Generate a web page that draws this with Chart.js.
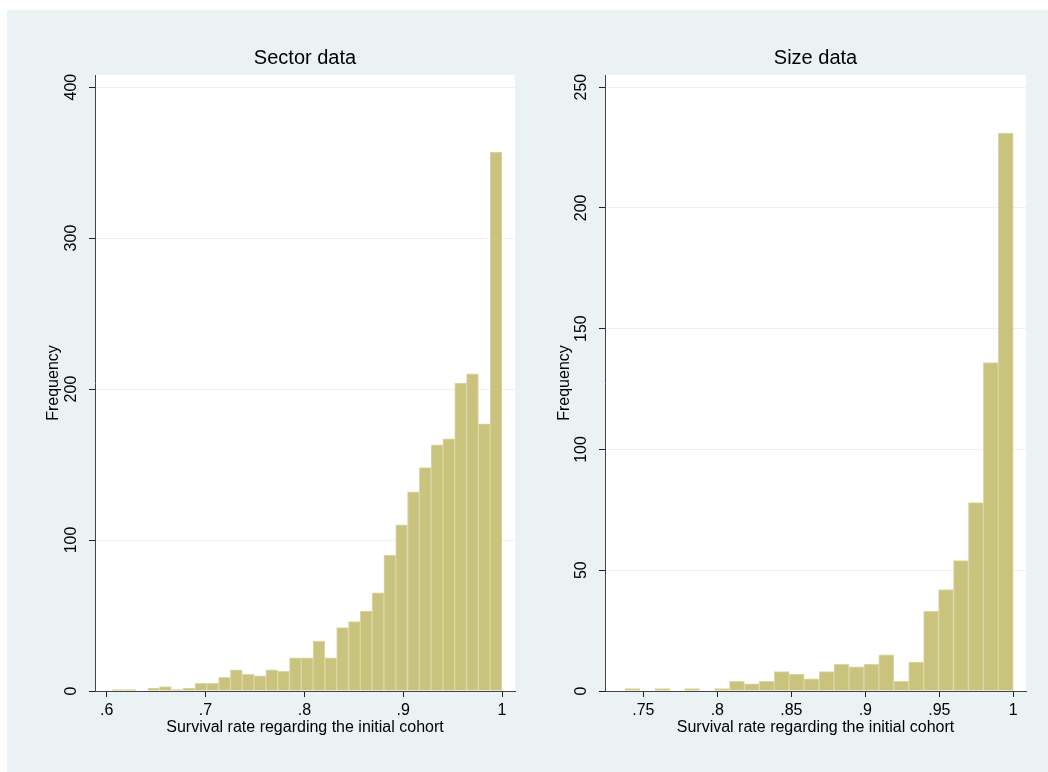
<!DOCTYPE html>
<html>
<head>
<meta charset="utf-8">
<script src="https://cdn.jsdelivr.net/npm/chart.js@4"></script>
<style>
  body { margin: 0; background: #fff; }
  #bg { position: absolute; left: 7px; top: 10px; width: 1041px; height: 762px; background: #eaf2f3; }
  canvas { position: absolute; top: 0; }
  #sector-chart { left: 0; }
  #size-chart { left: 524px; }
</style>
</head>
<body>
<div id="bg"></div>
<canvas id="sector-chart" width="524" height="772"></canvas>
<canvas id="size-chart" width="524" height="772"></canvas>
<script>
// histogram bins
const sectorBinStart = 0.6057;
const sectorBinWidth = 0.011948;
const sectorCounts = [1, 1, 0, 2, 3, 1, 2, 5, 5, 9, 14, 11, 10, 14, 13, 22, 22, 33, 22, 42, 46, 53, 65, 90, 110, 132, 148, 163, 167, 204, 210, 177, 357];
const sectorXTicks = [0.6, 0.7, 0.8, 0.9, 1];
const sectorXLabels = ['.6', '.7', '.8', '.9', '1'];
const sectorYTicks = [0, 100, 200, 300, 400];

const sizeBinStart = 0.7376;
const sizeBinWidth = 0.01009;
const sizeCounts = [1, 0, 1, 0, 1, 0, 1, 4, 3, 4, 8, 7, 5, 8, 11, 10, 11, 15, 4, 12, 33, 42, 54, 78, 136, 231];
const sizeXTicks = [0.75, 0.8, 0.85, 0.9, 0.95, 1];
const sizeXLabels = ['.75', '.8', '.85', '.9', '.95', '1'];
const sizeYTicks = [0, 50, 100, 150, 200, 250];

Chart.defaults.font.family = '"Liberation Sans", Arial, Helvetica, sans-serif';
Chart.defaults.color = '#000';

const plotBackground = {
    id: 'plotBackground',
    beforeDraw: (chart) => {
        const { ctx, chartArea } = chart;
        ctx.save();
        ctx.fillStyle = '#fff';
        ctx.fillRect(chartArea.left, chartArea.top, chartArea.width, chartArea.height);
        ctx.restore();
    }
};

const makeHistogram = (id, o) => {
    return new Chart(document.getElementById(id), {
        type: 'bar',
        data: {
            datasets: [{
                data: o.counts.map((c, i) => ({ x: o.start + (i + 0.5) * o.width, y: c })),
                backgroundColor: '#cac37e',
                borderColor: '#dcd7a6',
                borderWidth: 1,
                barPercentage: 1,
                categoryPercentage: 1
            }]
        },
        options: {
            responsive: false,
            animation: false,
            devicePixelRatio: 1,
            layout: { padding: { top: 10, bottom: 30, left: o.padLeft, right: o.padRight } },
            scales: {
                x: {
                    type: 'linear',
                    offset: false,
                    min: o.xMin,
                    max: o.xMax,
                    afterBuildTicks: (s) => { s.ticks = o.xTicks.map(v => ({ value: v })); },
                    afterFit: (s) => { s.height = 51; },
                    ticks: {
                        callback: (v, i) => o.xLabels[i],
                        autoSkip: false,
                        maxRotation: 0,
                        padding: 4,
                        font: { size: 16 }
                    },
                    grid: { offset: false, drawOnChartArea: false, tickLength: 6, tickColor: '#222' },
                    border: { color: '#444', z: 1 },
                    title: {
                        display: true,
                        text: 'Survival rate regarding the initial cohort',
                        font: { size: 16 },
                        padding: { top: 0, bottom: 5 }
                    }
                },
                y: {
                    min: 0,
                    max: o.yMax,
                    afterBuildTicks: (s) => { s.ticks = o.yTicks.map(v => ({ value: v })); },
                    afterFit: (s) => { s.width = o.yWidth; },
                    ticks: {
                        callback: (v) => String(v),
                        minRotation: 90,
                        maxRotation: 90,
                        crossAlign: 'center',
                        padding: 4,
                        font: { size: 16 }
                    },
                    grid: {
                        color: (ctx) => (ctx.tick && ctx.tick.value === 0) ? 'rgba(0,0,0,0)' : '#eaf2f3',
                        tickLength: 6,
                        tickColor: '#222'
                    },
                    border: { color: '#444', z: 1 },
                    title: {
                        display: true,
                        text: 'Frequency',
                        font: { size: 16 },
                        padding: { top: 4, bottom: 0 }
                    }
                }
            },
            plugins: {
                legend: { display: false },
                tooltip: { enabled: false },
                title: {
                    display: true,
                    text: o.title,
                    fullSize: false,
                    color: '#000',
                    font: { size: 20, weight: 'normal' },
                    padding: { top: 36, bottom: 5 }
                }
            }
        },
        plugins: [plotBackground]
    });
};

makeHistogram('sector-chart', {
    title: 'Sector data',
    start: sectorBinStart, width: sectorBinWidth, counts: sectorCounts,
    xTicks: sectorXTicks, xLabels: sectorXLabels, xMin: 0.58816, xMax: 1.01315,
    yTicks: sectorYTicks, yMax: 408,
    padLeft: 40, padRight: 9, yWidth: 55
});

makeHistogram('size-chart', {
    title: 'Size data',
    start: sizeBinStart, width: sizeBinWidth, counts: sizeCounts,
    xTicks: sizeXTicks, xLabels: sizeXLabels, xMin: 0.72412, xMax: 1.00858,
    yTicks: sizeYTicks, yMax: 255,
    padLeft: 27, padRight: 22, yWidth: 54
});
</script>
</body>
</html>
